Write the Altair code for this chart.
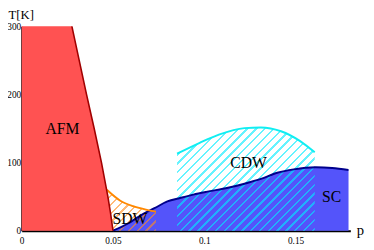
import altair as alt
import pandas as pd

# ---- data ----
afm_p = [0.0, 0.0275, 0.0315, 0.0355, 0.0397, 0.0437, 0.0472, 0.0487, 0.0500]
afm_T = [300, 300, 250, 200, 150, 100, 50, 25, 0]

sdw_p = [0.0466, 0.054, 0.061, 0.068, 0.0735]
sdw_T = [60, 44, 36, 31, 28]

sc_p = [0.050, 0.0585, 0.0654, 0.0727, 0.0798, 0.0867, 0.094, 0.101, 0.113,
        0.122, 0.131, 0.140, 0.149, 0.161, 0.170, 0.179]
sc_T = [0, 11, 23, 33, 43, 48, 53, 57, 63, 69, 76, 85, 90, 93, 92, 89]

cdw_p = [0.0851, 0.0975, 0.108, 0.122, 0.131, 0.142, 0.1525, 0.1605]
cdw_T = [113, 129, 141, 150.6, 151.6, 146, 131.5, 115]

label_text = ["AFM", "SDW", "CDW", "SC"]
label_p = [0.0223, 0.0593, 0.1242, 0.1697]
label_T = [149, 17, 99, 49.5]

x_ticks = [0, 0.05, 0.1, 0.15]
y_ticks = [0, 100, 200, 300]

# ---- layout ----
W, H = 336, 209
XMAX, YMAX = 0.18, 300
xs, ys = W / XMAX, H / YMAX

FONT = "'Liberation Serif', 'Times New Roman', 'DejaVu Serif', serif"


def hatch(ps, Ts, color, period=9.0, width=2.4):
    """Diagonal stripe gradient sized to the area's pixel bounding box."""
    bw = (max(ps) - min(ps)) * xs
    bh = max(Ts) * ys
    s = (1 / bh + 1 / bw) / (1 / bh ** 2 + 1 / bw ** 2)
    x2, y2 = s / bh, s / bw
    S = bw + bh
    stops = []
    k = 0
    clear = "rgba(255,255,255,0)"
    while k * period < S:
        a = k * period / S
        b = min(1.0, (k * period + width) / S)
        stops += [{"offset": a, "color": clear}, {"offset": a, "color": color},
                  {"offset": b, "color": color}, {"offset": b, "color": clear}]
        k += 1
    return {"gradient": "linear", "x1": 0, "y1": 0, "x2": x2, "y2": y2,
            "stops": stops}


afm = pd.DataFrame({"p": afm_p, "T": afm_T})
sdw = pd.DataFrame({"p": sdw_p, "T": sdw_T})
sc = pd.DataFrame({"p": sc_p, "T": sc_T})
cdw = pd.DataFrame({"p": cdw_p, "T": cdw_T})
labels = pd.DataFrame({"t": label_text, "p": label_p, "T": label_T})

xsc = alt.Scale(domain=[0, XMAX], nice=False, zero=False)
ysc = alt.Scale(domain=[0, YMAX], nice=False)

xenc = alt.X("p:Q", scale=xsc, axis=alt.Axis(
    values=x_ticks, format="~g", title="p", titleX=W + 6, titleY=4,
    titleAlign="left", titleBaseline="alphabetic", titleFontSize=15,
    labelPadding=5, labelFlush=False))
yenc = alt.Y("T:Q", scale=ysc, axis=alt.Axis(
    values=y_ticks, title="T[K]", titleAngle=0, titleX=-14, titleY=-12,
    titleAlign="left", titleBaseline="middle", titleFontSize=13,
    labelPadding=1, labelFlush=False))

sc_area = alt.Chart(sc).mark_area(color="#5454FA", interpolate="monotone").encode(x=xenc, y=yenc)
sdw_area = alt.Chart(sdw).mark_area(
    fill=hatch(sdw_p, sdw_T, "rgba(255,140,30,0.6)"), interpolate="monotone"
).encode(x="p:Q", y="T:Q")
cdw_area = alt.Chart(cdw).mark_area(
    fill=hatch(cdw_p, cdw_T, "rgba(0,235,255,0.6)"), interpolate="monotone"
).encode(x="p:Q", y="T:Q")
afm_area = alt.Chart(afm).mark_area(color="#FF5252").encode(x="p:Q", y="T:Q")

sc_line = alt.Chart(sc).mark_line(color="#00008C", strokeWidth=2, interpolate="monotone").encode(x="p:Q", y="T:Q")
sdw_line = alt.Chart(sdw).mark_line(color="#FF8800", strokeWidth=2, interpolate="monotone").encode(x="p:Q", y="T:Q")
cdw_line = alt.Chart(cdw).mark_line(color="#10EEF2", strokeWidth=2, interpolate="monotone").encode(x="p:Q", y="T:Q")
afm_line = alt.Chart(afm.iloc[1:]).mark_line(color="#A00000", strokeWidth=1.6).encode(x="p:Q", y="T:Q")

text = alt.Chart(labels).mark_text(font=FONT, fontSize=16, color="black",
                                   align="center", baseline="middle").encode(
    x="p:Q", y="T:Q", text="t:N")

chart = alt.layer(
    sc_area, sdw_area, cdw_area, afm_area,
    sc_line, sdw_line, cdw_line, afm_line, text
).properties(
    width=W, height=H,
    autosize=alt.AutoSizeParams(type="none"),
    padding={"left": 14, "top": 16, "right": 16, "bottom": 17},
).configure_view(stroke=None).configure_axis(
    domainColor="black", domainWidth=2, ticks=False, grid=False,
    labelFont=FONT, labelFontSize=9.5, labelColor="black",
    titleFont=FONT, titleFontWeight="normal", titleColor="black",
)

chart.save("out.html", embed_options={"renderer": "svg", "actions": False})
